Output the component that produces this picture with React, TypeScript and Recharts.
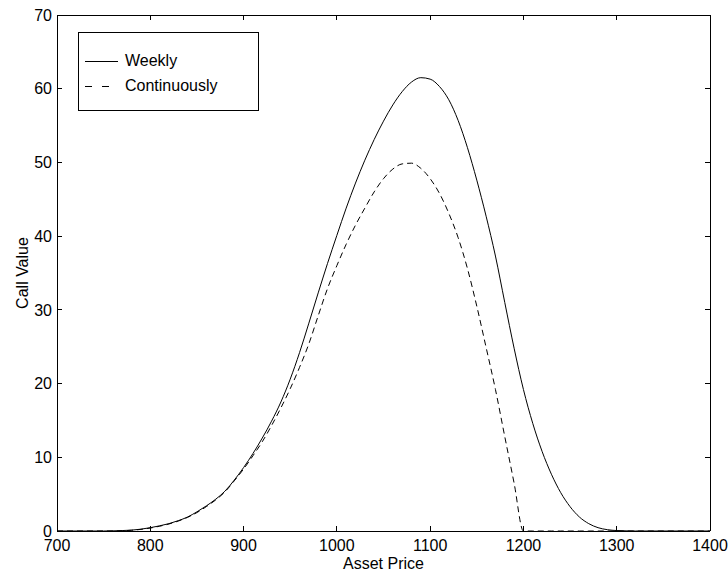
import { LineChart, Line, XAxis, YAxis, Legend } from 'recharts';

// asset price grid (x) and the two call value curves
const assetPrice = [
  700, 750, 760, 770, 780, 790, 800, 810, 820, 830, 840, 850, 860, 870, 880, 890,
  900, 910, 920, 930, 940, 950, 960, 970, 980, 990, 1000, 1010, 1020, 1030, 1040,
  1050, 1060, 1070, 1080, 1090, 1100, 1110, 1120, 1130, 1140, 1150, 1160, 1170,
  1180, 1190, 1200, 1210, 1220, 1230, 1240, 1250, 1260, 1270, 1280, 1290, 1300,
  1310, 1320, 1400,
];
const weekly = [
  0, 0, 0.02, 0.06, 0.12, 0.25, 0.45, 0.7, 1.0, 1.4, 1.9, 2.6, 3.4, 4.3, 5.4, 6.9,
  8.6, 10.5, 12.6, 14.9, 17.5, 20.6, 24.2, 28.2, 32.3, 36.3, 40.1, 43.8, 47.2, 50.3, 53.1,
  55.6, 57.8, 59.6, 60.9, 61.5, 61.3, 60.3, 58.5, 55.7, 52.0, 47.6, 42.7, 37.3,
  31.0, 24.8, 19.2, 14.6, 10.8, 7.7, 5.2, 3.3, 1.9, 1.0, 0.45, 0.18, 0.06,
  0.02, 0, 0,
];
const continuously = [
  0, 0, 0, 0.03, 0.1, 0.22, 0.4, 0.65, 0.95, 1.35, 1.85, 2.5, 3.3, 4.2, 5.3, 6.8,
  8.4, 10.2, 12.1, 14.3, 16.7, 19.3, 22.2, 25.4, 29.2, 32.9, 36.0, 38.9, 41.5, 43.8, 46.0,
  47.8, 49.1, 49.8, 49.9, 49.2, 47.8, 45.8, 43.1, 39.8, 35.6, 30.5, 24.9, 19.2,
  12.8, 6.5, 0, 0, 0, 0, 0, 0, 0, 0, 0, 0, 0,
  0, 0, 0,
];

const seriesNames = ['Weekly', 'Continuously'];
const xTicks = [700, 800, 900, 1000, 1100, 1200, 1300, 1400];
const yTicks = [0, 10, 20, 30, 40, 50, 60, 70];

const FONT = '"Liberation Sans", Arial, Helvetica, sans-serif';
const INK = '#000';
const TICK_LEN = 5;

const data = assetPrice.map((p, i) => ({
  price: p,
  weekly: weekly[i],
  continuously: continuously[i],
}));

const frame = { stroke: INK, strokeWidth: 1, shapeRendering: 'crispEdges' };

// tick renderers: labels outside, tick marks pointing into the plot (matlab style)
function BottomTick({ x, y, payload }: any) {
  return (
    <g>
      <path d={`M${x},${y - 9}V${y - 9 - TICK_LEN}`} {...frame} fill="none" />
      <text x={x} y={y} dy="0.71em" textAnchor="middle" fill={INK} fontSize={16} fontFamily={FONT}>
        {payload.value}
      </text>
    </g>
  );
}
function LeftTick({ x, y, payload }: any) {
  return (
    <g>
      <path d={`M${x + 5},${y}H${x + 5 + TICK_LEN}`} {...frame} fill="none" />
      <text x={x} y={y} dy="0.355em" textAnchor="end" fill={INK} fontSize={16} fontFamily={FONT}>
        {payload.value}
      </text>
    </g>
  );
}
function TopTick({ x, y }: any) {
  return <path d={`M${x},${y}V${y + TICK_LEN}`} {...frame} fill="none" />;
}
function RightTick({ x, y }: any) {
  return <path d={`M${x},${y}H${x - TICK_LEN}`} {...frame} fill="none" />;
}

function CallValueLabel({ viewBox }: any) {
  const cx = viewBox.x + 22;
  const cy = viewBox.y + viewBox.height / 2;
  return (
    <text x={cx} y={cy} transform={`rotate(-90 ${cx} ${cy})`} textAnchor="middle"
      dominantBaseline="central" fill={INK} fontSize={16} fontFamily={FONT}>
      Call Value
    </text>
  );
}

function LegendBox({ payload }: any) {
  return (
    <div style={{
      border: `1px solid ${INK}`, background: '#fff', width: 181, height: 79,
      boxSizing: 'border-box', paddingTop: 15, fontFamily: FONT, fontSize: 16, color: INK,
    }}>
      {(payload || []).map((entry: any) => (
        <div key={entry.value} style={{ display: 'flex', alignItems: 'center', height: 25, paddingLeft: 6 }}>
          <svg width={33} height={10} style={{ display: 'block' }}>
            <line x1={0} y1={5.5} x2={33} y2={5.5} stroke={INK} strokeWidth={1}
              strokeDasharray={entry.payload?.strokeDasharray ? '7 10' : undefined} />
          </svg>
          <span style={{ marginLeft: 7, lineHeight: '25px' }}>{entry.value}</span>
        </div>
      ))}
    </div>
  );
}

export default function App() {
  return (
    <div style={{ position: 'absolute', left: 0, top: 0, width: 728, height: 575, background: '#fff' }}>
      <LineChart width={728} height={575} data={data} margin={{ top: 14, right: 17, left: 0, bottom: 0 }}>
        <XAxis xAxisId="bottom" type="number" dataKey="price" domain={[700, 1400]} ticks={xTicks}
          allowDataOverflow height={44} axisLine={frame} tickLine={false} tickSize={0} tickMargin={9}
          tick={<BottomTick />}
          label={{ value: 'Asset Price', position: 'insideBottom', offset: 6, fill: INK, fontSize: 16, fontFamily: FONT }} />
        <XAxis xAxisId="top" orientation="top" type="number" dataKey="price" domain={[700, 1400]}
          ticks={xTicks} allowDataOverflow height={1} axisLine={frame} tickLine={false} tickSize={0}
          tickMargin={0} tick={<TopTick />} />
        <YAxis yAxisId="left" type="number" domain={[0, 70]} ticks={yTicks} allowDataOverflow width={57}
          axisLine={frame} tickLine={false} tickSize={0} tickMargin={5} tick={<LeftTick />}
          label={<CallValueLabel />} />
        <YAxis yAxisId="right" orientation="right" type="number" domain={[0, 70]} ticks={yTicks}
          allowDataOverflow width={1} axisLine={frame} tickLine={false} tickSize={0} tickMargin={0}
          tick={<RightTick />} />

        <Legend layout="vertical" align="center" verticalAlign="middle" content={<LegendBox />}
          itemSorter={(item: any) => seriesNames.indexOf(item.value)}
          wrapperStyle={{ left: 78, top: 32, width: 181, height: 79 }} />

        <Line xAxisId="top" yAxisId="right" type="monotone" dataKey="weekly" name={seriesNames[0]}
          stroke={INK} strokeWidth={1} dot={false} isAnimationActive={false} />
        <Line xAxisId="bottom" yAxisId="left" type="monotone" dataKey="continuously" name={seriesNames[1]}
          stroke={INK} strokeWidth={1} strokeDasharray="6 4" dot={false} isAnimationActive={false} />
      </LineChart>
    </div>
  );
}
